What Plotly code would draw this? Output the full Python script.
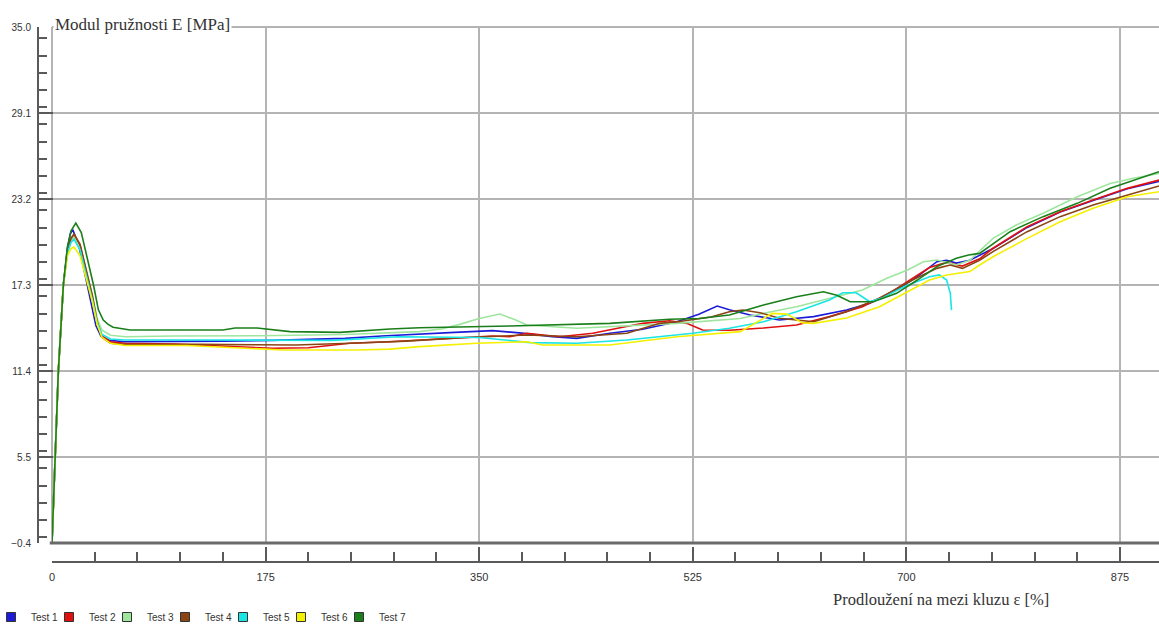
import plotly.graph_objects as go

# ---- data ----
test1_x = [0, 2.5, 5.2, 9.3, 12.6, 15.0, 17.0, 22, 27, 32, 36, 40, 47, 60, 100, 140, 180, 240, 270, 301, 330, 361, 385, 410, 430, 457, 484, 512, 530, 545, 555, 572, 596, 624, 651, 670, 692, 709, 725, 733, 741, 752, 771, 799, 826, 853, 881, 907]
test1_y = [-0.4, 5.5, 11.4, 17.3, 19.8, 20.8, 21.1, 20.0, 18.0, 16.0, 14.5, 13.8, 13.5, 13.41, 13.41, 13.45, 13.5, 13.64, 13.8, 13.95, 14.05, 14.17, 14.0, 13.75, 13.64, 13.99, 14.26, 14.78, 15.3, 15.86, 15.6, 15.24, 14.9, 15.13, 15.58, 16.04, 16.96, 17.87, 18.9, 19.0, 18.8, 19.0, 19.8, 21.25, 22.3, 23.1, 23.9, 24.4]

test2_x = [0, 2.5, 5.2, 9.3, 12.6, 15.5, 18.5, 23, 28, 33, 37, 41, 48, 60, 100, 150, 181, 210, 244, 277, 301, 320, 361, 375, 389, 416, 443, 484, 506, 520, 533, 555, 583, 610, 637, 664, 686, 703, 719, 733, 746, 760, 771, 799, 826, 853, 881, 907]
test2_y = [-0.4, 5.5, 11.4, 17.3, 19.6, 20.4, 20.7, 20.0, 18.3, 16.5, 14.8, 13.8, 13.4, 13.3, 13.25, 13.07, 12.96, 13.0, 13.3, 13.41, 13.53, 13.64, 13.8, 13.75, 13.99, 13.75, 13.99, 14.67, 14.85, 14.67, 14.21, 14.2, 14.35, 14.56, 15.13, 15.81, 16.73, 17.64, 18.5, 18.85, 18.6, 19.1, 19.82, 21.3, 22.33, 23.13, 23.93, 24.5]

test3_x = [0, 2.5, 5.2, 9.3, 12.6, 15.5, 18.0, 23, 28, 33, 37, 41, 48, 60, 100, 170, 240, 301, 320, 334, 350, 367, 380, 389, 430, 470, 512, 564, 583, 610, 637, 664, 684, 701, 714, 725, 741, 752, 771, 790, 812, 840, 867, 886, 907]
test3_y = [-0.4, 5.5, 11.4, 17.3, 19.6, 20.3, 20.6, 19.8, 18.2, 16.6, 15.0, 14.2, 13.85, 13.75, 13.8, 13.82, 13.9, 14.1, 14.3, 14.6, 15.0, 15.31, 14.9, 14.56, 14.33, 14.5, 14.67, 15.0, 15.36, 15.81, 16.39, 16.96, 17.76, 18.33, 18.9, 19.01, 18.67, 19.0, 20.5, 21.42, 22.22, 23.36, 24.27, 24.62, 24.95]

test4_x = [0, 2.5, 5.2, 9.3, 12.6, 15.5, 18.0, 23, 28, 33, 37, 41, 48, 60, 120, 200, 244, 290, 340, 389, 430, 471, 498, 517, 540, 555, 566, 580, 596, 624, 651, 678, 705, 725, 736, 746, 760, 771, 799, 826, 853, 881, 907]
test4_y = [-0.4, 5.5, 11.4, 17.3, 19.6, 20.5, 20.8, 20.1, 18.4, 16.6, 14.8, 13.7, 13.3, 13.23, 13.23, 13.18, 13.3, 13.45, 13.7, 13.87, 13.75, 13.99, 14.67, 14.83, 15.1, 15.47, 15.58, 15.4, 15.02, 14.78, 15.47, 16.39, 17.64, 18.44, 18.67, 18.44, 19.0, 19.59, 20.96, 21.99, 22.79, 23.47, 24.09]

test5_x = [0, 2.5, 5.2, 9.3, 12.6, 15.5, 18.0, 23, 28, 33, 37, 41, 48, 60, 120, 170, 230, 283, 350, 392, 430, 471, 525, 555, 583, 610, 637, 648, 659, 670, 680, 698, 719, 727, 733, 736, 737]
test5_y = [-0.4, 5.5, 11.4, 17.3, 19.5, 20.2, 20.45, 19.7, 18.0, 16.3, 14.7, 13.9, 13.6, 13.53, 13.53, 13.5, 13.5, 13.75, 13.7, 13.35, 13.3, 13.53, 13.99, 14.33, 14.78, 15.47, 16.27, 16.77, 16.77, 16.15, 16.4, 17.18, 17.87, 17.99, 17.64, 16.73, 15.58]

test6_x = [0, 2.5, 5.2, 9.3, 12.6, 15.5, 18.0, 23, 28, 33, 37, 41, 48, 60, 110, 150, 190, 250, 277, 301, 348, 389, 402, 457, 512, 564, 578, 590, 602, 615, 624, 651, 678, 698, 719, 733, 752, 760, 771, 799, 826, 853, 881, 907]
test6_y = [-0.4, 5.5, 11.4, 17.3, 19.3, 19.8, 19.9, 19.3, 17.8, 16.2, 14.6, 13.7, 13.3, 13.15, 13.15, 13.0, 12.84, 12.84, 12.9, 13.07, 13.3, 13.41, 13.18, 13.18, 13.75, 14.1, 14.8, 15.35, 15.3, 14.7, 14.67, 15.04, 15.81, 16.73, 17.64, 17.99, 18.22, 18.67, 19.24, 20.5, 21.64, 22.56, 23.36, 23.7]

test7_x = [0, 2.5, 5.2, 9.3, 12.6, 15.5, 19.5, 24, 29, 34, 38, 42, 46, 50, 64, 140, 150, 168, 195, 236, 277, 301, 375, 457, 506, 530, 555, 583, 610, 632, 643, 654, 673, 692, 709, 725, 741, 751, 760, 785, 812, 840, 867, 894, 907]
test7_y = [-0.4, 5.5, 11.4, 17.3, 19.9, 21.0, 21.55, 20.9, 19.2, 17.3, 15.6, 14.9, 14.6, 14.4, 14.21, 14.21, 14.35, 14.35, 14.1, 14.05, 14.28, 14.37, 14.49, 14.67, 14.95, 15.0, 15.24, 15.93, 16.5, 16.84, 16.6, 16.15, 16.15, 16.73, 17.64, 18.56, 19.13, 19.36, 19.47, 20.96, 21.99, 22.9, 23.93, 24.73, 25.07]

series_names = ["Test 1", "Test 2", "Test 3", "Test 4", "Test 5", "Test 6", "Test 7"]
series_x = [test1_x, test2_x, test3_x, test4_x, test5_x, test6_x, test7_x]
series_y = [test1_y, test2_y, test3_y, test4_y, test5_y, test6_y, test7_y]
series_colors = ["#1c1cd8", "#e01010", "#9ee69e", "#8b4513", "#19e5e5", "#f5f000", "#1a7f1a"]

y_tick0, y_dtick = -0.4, 5.9
x_dtick = 175

W, H = 1159, 625
MT, MB = 27, 0
ph = H - MT - MB

def py(px_y):
    return (H - px_y) / ph

fig = go.Figure()
for name, xs, ys, col in zip(series_names, series_x, series_y, series_colors):
    fig.add_trace(go.Scatter(x=xs, y=ys, mode="lines", name=name, showlegend=False,
                             line=dict(color=col, width=1.6)))

# one small legend per entry so the entries sit at the reference spacing
legend_layout = {}
for i, (name, col) in enumerate(zip(series_names, series_colors)):
    key = "legend" if i == 0 else "legend%d" % (i + 1)
    fig.add_trace(go.Scatter(x=[None], y=[None], mode="markers", name=name, legend=key,
                             marker=dict(symbol="square", size=9, color=col,
                                         line=dict(color="#333333", width=1))))
    square_center_px = 11 + 58 * i
    legend_layout[key] = dict(orientation="h", x=(square_center_px - 20) / W, xanchor="left",
                              y=py(617), yanchor="middle", itemwidth=30,
                              font=dict(size=10, color="#333333"), bgcolor="rgba(0,0,0,0)")

axis_col = "#5a5a5a"
grid_col = "#b4b4b4"

fig.update_layout(
    width=W, height=H,
    margin=dict(l=0, r=0, t=MT, b=MB, autoexpand=False),
    paper_bgcolor="white", plot_bgcolor="white",
    font=dict(family="Liberation Sans, Arial", size=10, color="#333333"),
    xaxis=dict(domain=[52 / W, 1], range=[0, 907], anchor="free", position=py(562),
               tickmode="linear", tick0=0, dtick=x_dtick,
               showgrid=True, gridcolor=grid_col, gridwidth=2, zeroline=False,
               showline=True, linecolor=axis_col, linewidth=2,
               ticks="inside", ticklen=14, tickwidth=2, tickcolor=axis_col,
               minor=dict(dtick=35, ticks="inside", ticklen=9, tickwidth=2, tickcolor=axis_col, showgrid=False),
               tickfont=dict(size=11, color="#333333"), ticklabelstandoff=5, automargin=False),
    yaxis=dict(domain=[py(543), 1], range=[-0.4, 35.0], anchor="free", position=38 / W,
               tickmode="linear", tick0=y_tick0, dtick=y_dtick, tickformat=".1f",
               showgrid=True, gridcolor=grid_col, gridwidth=2, zeroline=False,
               showline=True, linecolor=axis_col, linewidth=2,
               ticks="inside", ticklen=14, tickwidth=2, tickcolor=axis_col,
               minor=dict(dtick=1.18, ticks="inside", ticklen=8, tickwidth=2, tickcolor=axis_col, showgrid=False),
               tickfont=dict(size=10, color="#333333"), ticklabelstandoff=4, automargin=False),
    showlegend=True,
    **legend_layout,
)

# frame lines: top (35.0 grid), left (x = 0 grid), thick bottom (-0.4)
fig.add_shape(type="line", xref="x domain", yref="y domain", x0=0, x1=1, y0=1, y1=1,
              line=dict(color=grid_col, width=2), layer="below")
fig.add_shape(type="line", xref="x domain", yref="y domain", x0=0, x1=0, y0=0, y1=1,
              line=dict(color=grid_col, width=2), layer="below")
fig.add_shape(type="line", xref="x domain", yref="y domain", x0=-0.002, x1=1, y0=0, y1=0,
              line=dict(color="#6a6a6a", width=3))

fig.add_annotation(text="Modul pružnosti E [MPa]", xref="paper", yref="paper",
                   x=53 / W, y=1, xanchor="left", yanchor="middle", yshift=3, showarrow=False,
                   bgcolor="white", font=dict(family="Liberation Serif", size=17, color="#333333"))
fig.add_annotation(text="Prodloužení na mezi kluzu ε [%]", xref="paper", yref="paper",
                   x=941 / W, y=py(599), xanchor="center", yanchor="middle", showarrow=False,
                   font=dict(family="Liberation Serif", size=16.5, color="#333333"))

fig.write_html("out.html", config={"displayModeBar": False},
               post_script="document.body.style.margin='0';")
